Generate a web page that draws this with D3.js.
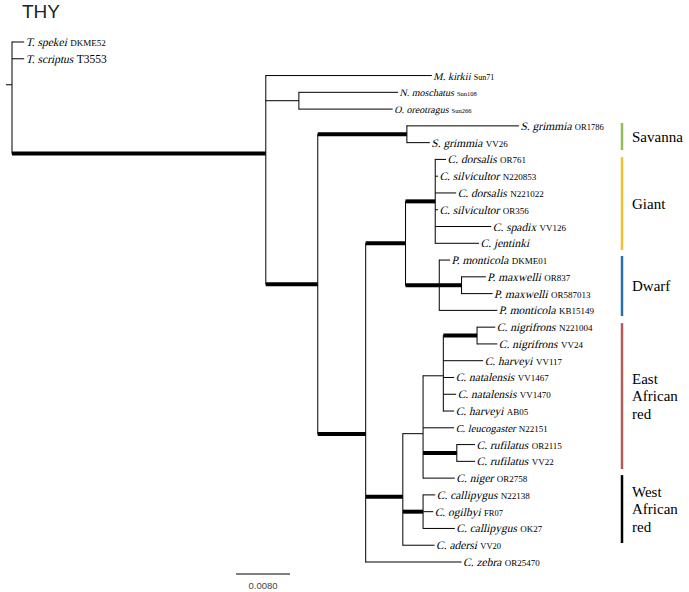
<!DOCTYPE html>
<html><head><meta charset="utf-8">
<script src="https://cdn.jsdelivr.net/npm/d3@7"></script>
<style>body{margin:0;background:#fff}svg{display:block}</style>
</head><body>
<svg id="chart" width="689" height="592"></svg>
<script>
// ---------------- DATA ----------------
// tree edges in pre-order: node id, parent id, branch length (substitutions/site)
const nodeIds = ["root","Tspe","Tscr","A","Mkir","NO","Nmos","Oore","B","Sav","SgOR","SgVV","C","GD","Giant","CdOR","CsN","CdN","CsOR","Cspa","Cjen","Dwarf","PmDK","Pmax","PmaA","PmaB","PmKB","Red","East","Inner","Nig","NigN","NigVV","HarVV","Nat67","Nat70","HarAB","Leu","Ruf","RufOR","RufVV","Niger","West","CalN","Ogi","CalOK","Ade","Zeb"];
const parentIds = ["","root","root","root","A","A","NO","NO","A","B","Sav","Sav","B","C","GD","Giant","Giant","Giant","Giant","Giant","Giant","GD","Dwarf","Dwarf","Pmax","Pmax","Dwarf","C","Red","East","Inner","Nig","Nig","Inner","Inner","Inner","Inner","East","East","Ruf","Ruf","East","Red","West","West","West","Red","C"];
const branchLengths = [0,0.0018,0.0018,0.0376,0.0246,0.0049,0.0147,0.0139,0.0077,0.0132,0.0166,0.0034,0.0071,0.0059,0.0044,0.0016,0.0004,0.0031,0.0004,0.0083,0.0065,0.0050,0.0016,0.0033,0.0036,0.0046,0.0086,0.0055,0.0030,0.0030,0.0050,0.0027,0.0030,0.0059,0.0016,0.0019,0.0016,0.0046,0.0050,0.0027,0.0027,0.0047,0.0030,0.0018,0.0015,0.0047,0.0047,0.0142];
// branches with strong support
const supported = ["A","B","Sav","C","GD","Giant","Dwarf","Pmax","Red","West","Nig","Ruf"];

// tip labels
const tipIds = ["Tspe","Tscr","Mkir","Nmos","Oore","SgOR","SgVV","CdOR","CsN","CdN","CsOR","Cspa","Cjen","PmDK","PmaA","PmaB","PmKB","NigN","NigVV","HarVV","Nat67","Nat70","HarAB","Leu","RufOR","RufVV","Niger","CalN","Ogi","CalOK","Ade","Zeb"];
const tipSpecies = ["T. spekei","T. scriptus","M. kirkii","N. moschatus","O. oreotragus","S. grimmia","S. grimmia","C. dorsalis","C. silvicultor","C. dorsalis","C. silvicultor","C. spadix","C. jentinki","P. monticola","P. maxwelli","P. maxwelli","P. monticola","C. nigrifrons","C. nigrifrons","C. harveyi","C. natalensis","C. natalensis","C. harveyi","C. leucogaster","C. rufilatus","C. rufilatus","C. niger","C. callipygus","C. ogilbyi","C. callipygus","C. adersi","C. zebra"];
const tipCodes = ["DKME52","T3553","Sun71","Sun108","Sun266","OR1786","VV26","OR761","N220853","N221022","OR356","VV126","","DKME01","OR837","OR587013","KB15149","N221004","VV24","VV117","VV1467","VV1470","AB05","N22151","OR2115","VV22","OR2758","N22138","FR07","OK27","VV20","OR25470"];

// clade groups (extent in tip-index units)
const groupNames = [["Savanna"],["Giant"],["Dwarf"],["East","African","red"],["West","African","red"]];
const groupStart = [4.83,6.86,12.76,16.76,25.82];
const groupEnd = [6.44,12.4,16.34,25.46,29.87];

const title = "THY";
const scaleBarValue = 0.008;
const scaleBarLabel = "0.0080";

// ---------------- STYLE ----------------
const SERIF = '"Liberation Serif","Times New Roman",serif';
const SANS = '"Liberation Sans",Arial,sans-serif';
const groupColors = ["#94bd55","#f0c232","#2a6fa8","#b35a58","#000000"];
const speciesSize = {Mkir:10.5, Nmos:10, Oore:10, Leu:10.5};
const codeSize = {Tscr:11.5, Mkir:8, Nmos:6.5, Oore:6.5, SgOR:8.5, Ogi:8.5, Ade:8.5};

// ---------------- BUILD ----------------
const svg = d3.select("#chart");
const rows = nodeIds.map((id,i)=>({id, parent: parentIds[i] || null, len: branchLengths[i]}));
const root = d3.stratify().id(d=>d.id).parentId(d=>d.parent)(rows);

const x = d3.scaleLinear().domain([0, scaleBarValue]).range([12, 66]);
const y = d3.scaleLinear().domain([0, tipIds.length-1]).range([42, 562]);

root.eachBefore(n => { n.dist = n.parent ? n.parent.dist + n.data.len : 0; });
const tipIndex = new Map(tipIds.map((t,i)=>[t,i]));
root.eachAfter(n => {
  if (!n.children) n.yi = tipIndex.get(n.id);
  else n.yi = d3.mean(n.children, c=>c.yi);
});

const g = svg.append("g").attr("stroke","#000").attr("fill","none");
// horizontal branches
g.selectAll("line.h").data(root.descendants().filter(n=>n.parent)).join("line")
  .attr("class","h")
  .attr("x1", n=>x(n.parent.dist)).attr("x2", n=>x(n.dist))
  .attr("y1", n=>y(n.yi)).attr("y2", n=>y(n.yi))
  .attr("stroke-width", n=>supported.includes(n.id)?4:1);
// vertical connectors
g.selectAll("line.v").data(root.descendants().filter(n=>n.children)).join("line")
  .attr("class","v")
  .attr("x1", n=>x(n.dist)).attr("x2", n=>x(n.dist))
  .attr("y1", n=>y(d3.min(n.children,c=>c.yi))-0.5).attr("y2", n=>y(d3.max(n.children,c=>c.yi))+0.5)
  .attr("stroke-width",1);
// root stem
g.append("line").attr("x1", x(-0.0009)).attr("x2", x(0))
  .attr("y1", y(root.yi)).attr("y2", y(root.yi)).attr("stroke-width",1);

// tip labels (serif, oblique species name + upright specimen code)
const leaves = root.leaves();
const lab = svg.append("g").attr("fill","#000");
leaves.forEach(n=>{
  const i = tipIndex.get(n.id);
  const gg = lab.append("g").attr("transform", `translate(${x(n.dist)+1.5},${y(n.yi)+4})`);
  const fs = speciesSize[n.id]||11.5;
  const sp = gg.append("text").style("font-family", SERIF).attr("font-size", fs)
    .attr("transform","skewX(-13)").text(tipSpecies[i]);
  const w = sp.node().getComputedTextLength();
  if (tipCodes[i]) {
    const cs = codeSize[n.id]||9;
    gg.append("text").style("font-family", SERIF).attr("x", w + fs*0.25 + 0.5)
      .attr("font-size", cs).text(tipCodes[i]);
  }
});

// group bars and names
groupNames.forEach((lines,k)=>{
  const y0 = y(groupStart[k]), y1 = y(groupEnd[k]);
  svg.append("line").attr("x1",622).attr("x2",622).attr("y1",y0).attr("y2",y1)
    .attr("stroke",groupColors[k]).attr("stroke-width",2.5);
  const mid = (y0+y1)/2, lh = 17.5;
  const txt = svg.append("text").style("font-family", SERIF)
    .attr("font-size",15).attr("fill","#000");
  lines.forEach((s,j)=>{
    txt.append("tspan").attr("x",632).attr("y", mid + (j-(lines.length-1)/2)*lh + 5).text(s);
  });
});

// title
svg.append("text").style("font-family", SANS).attr("x",22).attr("y",17.5)
  .attr("font-size",19).attr("fill","#222").text(title);

// scale bar
const sbx = 236, sby = 574;
svg.append("line").attr("x1",sbx).attr("x2",sbx + x(scaleBarValue)-x(0)).attr("y1",sby).attr("y2",sby)
  .attr("stroke","#000").attr("stroke-width",1);
svg.append("text").style("font-family", SANS).attr("x", sbx + (x(scaleBarValue)-x(0))/2).attr("y", sby+15).attr("text-anchor","middle")
  .attr("font-size",9.5).attr("fill","#444").text(scaleBarLabel);
</script>
</body></html>
